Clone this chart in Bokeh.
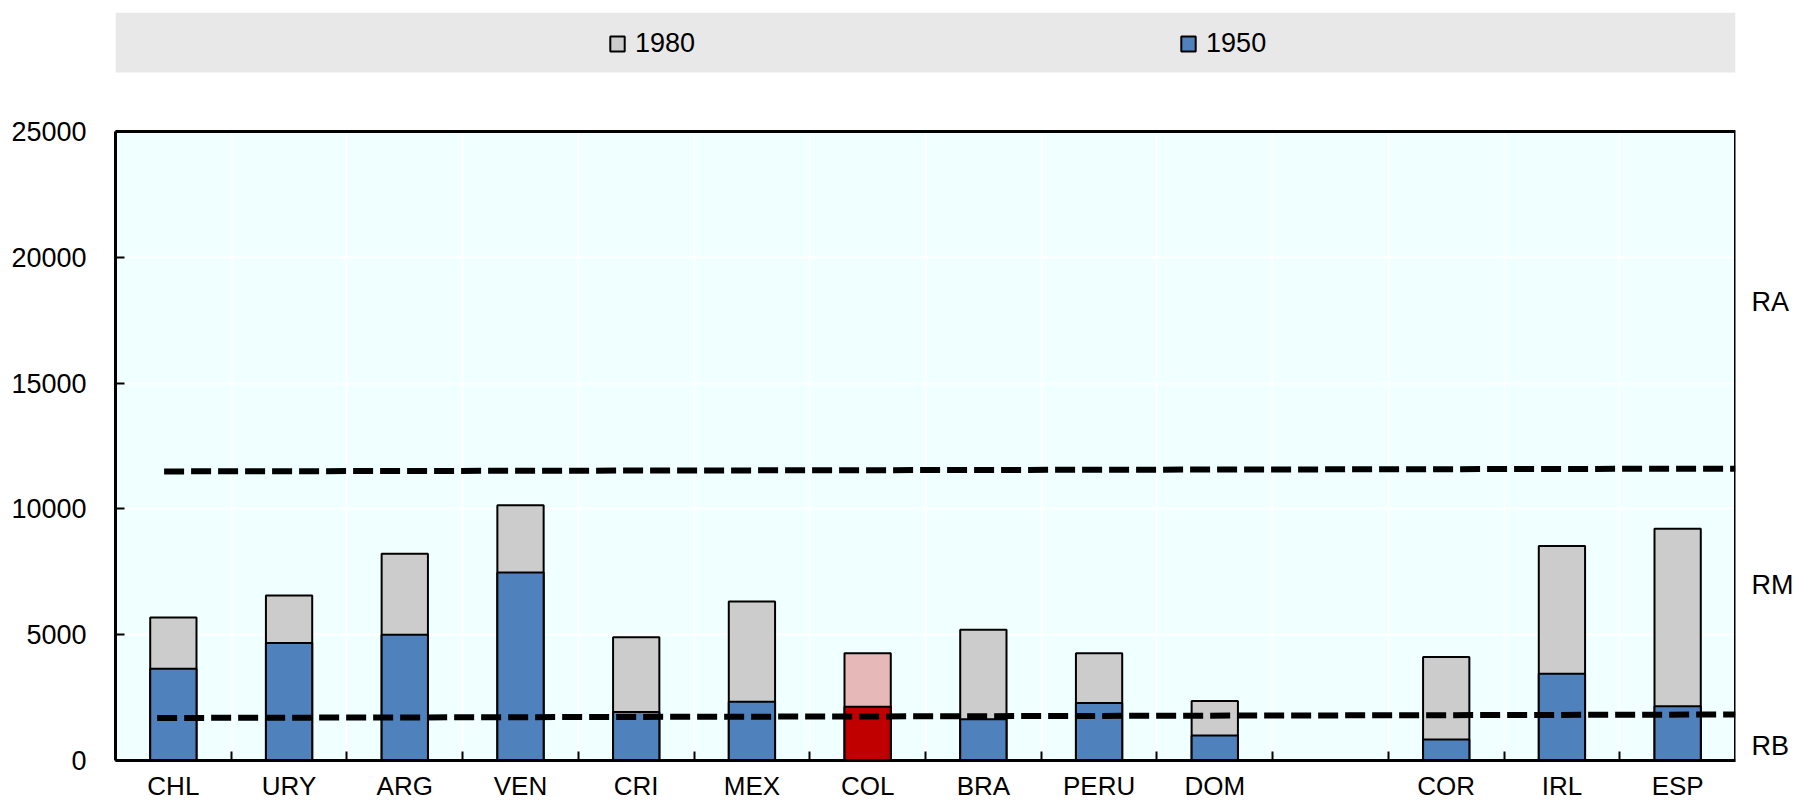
import numpy as np
from bokeh.plotting import figure
from bokeh.models import (ColumnDataSource, Range1d, FixedTicker, Legend, LegendItem,
                          BoxAnnotation, LinearAxis)
from bokeh.embed import file_html
from bokeh.resources import INLINE

# ---------------- data ----------------
categories = ["CHL", "URY", "ARG", "VEN", "CRI", "MEX", "COL", "BRA", "PERU", "DOM",
              "", "COR", "IRL", "ESP"]
gdp_1980 = [5680, 6560, 8220, 10150, 4900, 6320, 4260, 5200, 4260, 2360,
            np.nan, 4110, 8530, 9210]
gdp_1950 = [3650, 4670, 5000, 7470, 1930, 2340, 2140, 1640, 2290, 990,
            np.nan, 830, 3445, 2160]
highlight = "COL"

# income thresholds (dashed lines): x in category slots, y in values
upper_x = [0.42, 14.0]
upper_y = [11490, 11600]
lower_x = [0.36, 14.0]
lower_y = [1690, 1828]

region_labels = ["RA", "RM", "RB"]
region_label_y = [18240, 6980, 580]

y_ticks = [0, 5000, 10000, 15000, 20000, 25000]

# ---------------- styling ----------------
FONT = "Liberation Sans"
FS = "27px"
FSX = "26px"
BLUE = "#4F81BD"
GREY = "#CCCCCC"
RED = "#C00000"
PINK = "#E6B9B8"
BG = "#F0FFFF"
STRIP = "#E8E8E8"

W, H = 1796, 801
F_LEFT, F_RIGHT = 115, 1735      # frame edges (px)
Y0_PX, YTOP_PX = 760, 131        # pixel rows of 0 and of the top tick
F_TOP = 12                       # top of frame (legend strip top)
STRIP_BOTTOM_PX = 72

n = len(categories)
xs = [i + 0.5 for i in range(n)]
c1980 = [PINK if c == highlight else GREY for c in categories]
c1950 = [RED if c == highlight else BLUE for c in categories]

src = ColumnDataSource(dict(x=xs, cat=categories, v1980=gdp_1980, v1950=gdp_1950,
                            c1980=c1980, c1950=c1950))

ymax = y_ticks[-1]
px_per_unit = (Y0_PX - YTOP_PX) / ymax
y_start = -(H - Y0_PX) / px_per_unit
y_end = ymax + (YTOP_PX - F_TOP) / px_per_unit

p = figure(width=W, height=H, x_range=Range1d(0, n), y_range=Range1d(y_start, y_end),
           output_backend="svg", toolbar_location=None, title=None,
           min_border_left=F_LEFT, min_border_right=W - F_RIGHT,
           min_border_top=F_TOP, min_border_bottom=0)
p.background_fill_color = "white"
p.border_fill_color = "white"
p.outline_line_color = None

# plot-area background (0..25000)
bg_box = BoxAnnotation(bottom=0, top=ymax, fill_color=BG, fill_alpha=1.0,
                       line_color=None, level="image")
p.add_layout(bg_box)

# grids
p.xgrid.ticker = FixedTicker(ticks=list(range(1, n)))
p.xgrid.grid_line_color = "white"
p.xgrid.grid_line_width = 2
p.ygrid.ticker = FixedTicker(ticks=y_ticks[1:-1])
p.ygrid.grid_line_color = "white"
p.ygrid.grid_line_width = 2

# frame outline on top of grid lines
outline_box = BoxAnnotation(bottom=0, top=ymax, fill_alpha=0, line_color="black",
                            line_alpha=1.0, line_width=3, level="underlay")
p.add_layout(outline_box)

# bars
r80 = p.vbar(x="x", top="v1980", bottom=0, width=0.4, source=src,
             fill_color="c1980", line_color="black", line_width=2)
r50 = p.vbar(x="x", top="v1950", bottom=0, width=0.4, source=src,
             fill_color="c1950", line_color="black", line_width=2)

# threshold lines
p.line(upper_x, upper_y, line_color="black", line_width=6, line_dash="20 7")
p.line(lower_x, lower_y, line_color="black", line_width=6, line_dash="20 7")

# x axis
xa = p.xaxis[0]
xa.fixed_location = 0
xa.ticker = FixedTicker(ticks=[x for x, c in zip(xs, categories) if c],
                        minor_ticks=list(range(1, n)))
xa.major_label_overrides = {x: c for x, c in zip(xs, categories) if c}
xa.major_tick_in = 0
xa.major_tick_out = 0
xa.minor_tick_in = 9
xa.minor_tick_out = 0
xa.minor_tick_line_color = "black"
xa.minor_tick_line_width = 2
xa.axis_line_color = "black"
xa.axis_line_width = 3
xa.major_label_standoff = 10
xa.major_label_text_font = FONT
xa.major_label_text_font_size = FSX
xa.major_label_text_color = "black"

# y axis
ya = p.yaxis[0]
ya.ticker = FixedTicker(ticks=y_ticks)
ya.bounds = (0, ymax)
ya.major_tick_in = 9
ya.major_tick_out = 0
ya.major_tick_line_width = 2
ya.major_tick_line_color = "black"
ya.minor_tick_line_color = None
ya.axis_line_color = "black"
ya.axis_line_width = 3
ya.major_label_standoff = 29
ya.major_label_text_font = FONT
ya.major_label_text_font_size = FS
ya.major_label_text_color = "black"

# right axis carrying the income-region labels
ra = LinearAxis(ticker=FixedTicker(ticks=region_label_y),
                major_label_overrides={v: t for v, t in zip(region_label_y, region_labels)},
                axis_line_color=None, major_tick_line_color=None,
                major_tick_in=0, major_tick_out=0,
                minor_tick_line_color=None, minor_tick_in=0, minor_tick_out=0,
                major_label_standoff=16,
                major_label_text_font=FONT, major_label_text_font_size=FS,
                major_label_text_color="black")
p.add_layout(ra, "right")

# legend strip
strip_bottom = ymax + (YTOP_PX - STRIP_BOTTOM_PX) / px_per_unit
strip = BoxAnnotation(bottom=strip_bottom, top=None, fill_color=STRIP, fill_alpha=1.0,
                      line_color=None)
p.add_layout(strip)

LEG_H = 34
LEG_CENTER = 43
legend = Legend(items=[LegendItem(label="1980", renderers=[r80], index=0),
                       LegendItem(label="1950", renderers=[r50], index=0)],
                orientation="horizontal",
                location=(608 - F_LEFT, H - (LEG_CENTER - LEG_H // 2) - LEG_H),
                padding=0, margin=0, spacing=484,
                glyph_width=18, glyph_height=19, label_standoff=9,
                label_width=60, label_height=LEG_H,
                background_fill_alpha=0, border_line_color=None,
                label_text_font=FONT, label_text_font_size=FS,
                label_text_color="black")
p.add_layout(legend)

open("out.html", "w").write(file_html(p, INLINE))
